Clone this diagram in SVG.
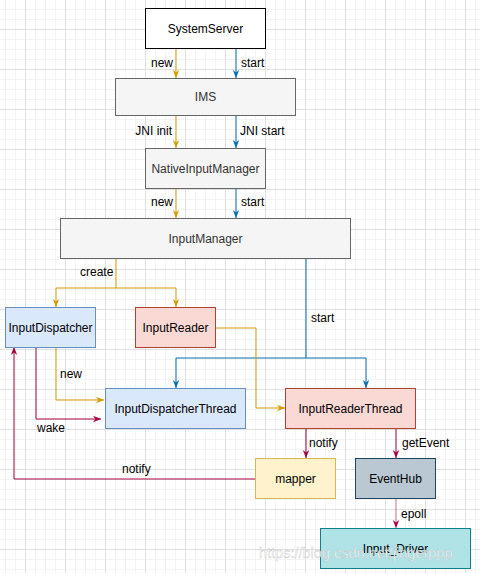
<svg xmlns="http://www.w3.org/2000/svg" width="480" height="573" viewBox="0 0 480 573">
<style>
text{font-family:"Liberation Sans",Arial,sans-serif;font-size:12px;fill:#000}
.c{text-anchor:middle}
.e{text-anchor:end}
.n rect{stroke-width:1}
.y{stroke:#d79b00;fill:none}
.b{stroke:#006eaf;fill:none}
.r{stroke:#a50040;fill:none}
.wm{font-size:14.5px;fill:#fff;fill-opacity:.85;stroke:#9a9a9a;stroke-width:.4;stroke-opacity:.6}
</style>
<defs>
<pattern id="g" patternUnits="userSpaceOnUse" x="25" y="29" width="40" height="40">
<rect x="0" y="0" width="40" height="40" fill="#fff"/>
<path d="M10.5,0V40M20.5,0V40M30.5,0V40M0,10.5H40M0,20.5H40M0,30.5H40" stroke="#f4f4f4" stroke-width="1"/>
<path d="M0.5,0V40M0,0.5H40" stroke="#e0e0e0" stroke-width="1"/>
</pattern>
<marker id="ay" viewBox="0 0 10 10" refX="10" refY="5" markerWidth="8" markerHeight="8" markerUnits="userSpaceOnUse" orient="auto"><path d="M0,1L10,5L0,9L3,5z" fill="#d79b00"/></marker>
<marker id="ab" viewBox="0 0 10 10" refX="10" refY="5" markerWidth="8" markerHeight="8" markerUnits="userSpaceOnUse" orient="auto"><path d="M0,1L10,5L0,9L3,5z" fill="#006eaf"/></marker>
<marker id="ar" viewBox="0 0 10 10" refX="10" refY="5" markerWidth="8" markerHeight="8" markerUnits="userSpaceOnUse" orient="auto"><path d="M0,1L10,5L0,9L3,5z" fill="#a50040"/></marker>
</defs>
<rect width="480" height="573" fill="url(#g)"/>
<g id="connectors">
<path class="y" d="M176,48V78" marker-end="url(#ay)"/>
<path class="b" d="M236,48V78" marker-end="url(#ab)"/>
<path class="y" d="M176,115V148" marker-end="url(#ay)"/>
<path class="b" d="M236,115V148" marker-end="url(#ab)"/>
<path class="y" d="M176,188V218" marker-end="url(#ay)"/>
<path class="b" d="M236,188V218" marker-end="url(#ab)"/>
<path class="y" d="M116,258V288H56V307" marker-end="url(#ay)"/>
<path class="y" d="M116,288H176V307" marker-end="url(#ay)"/>
<path class="b" d="M306,258V358H176V388" marker-end="url(#ab)"/>
<path class="b" d="M306,358H366V388" marker-end="url(#ab)"/>
<path class="y" d="M215,328H256V408H285" marker-end="url(#ay)"/>
<path class="y" d="M56,347V400H104" marker-end="url(#ay)"/>
<path class="r" d="M36,347V419H101" marker-end="url(#ar)"/>
<path class="r" d="M255,479H14V347" marker-end="url(#ar)"/>
<path class="r" d="M306,428V458" marker-end="url(#ar)"/>
<path class="r" d="M396,428V458" marker-end="url(#ar)"/>
<path class="r" d="M396,498V528" stroke-opacity=".55" marker-end="url(#ar)"/>
<text x="173" y="67" class="e">new</text>
<text x="241" y="67">start</text>
<text x="172" y="135" class="e">JNI init</text>
<text x="240" y="135">JNI start</text>
<text x="173" y="206" class="e">new</text>
<text x="241" y="206">start</text>
<text x="80" y="276">create</text>
<text x="311" y="322">start</text>
<text x="60" y="378">new</text>
<text x="37" y="432">wake</text>
<text x="122" y="473">notify</text>
<text x="309" y="447">notify</text>
<text x="402" y="447">getEvent</text>
<text x="401" y="518">epoll</text>
</g>
<g id="SystemServer" class="n"><rect x="145.5" y="8.5" width="120" height="40" fill="#fff" stroke="#000"/><text x="205.5" y="32.5" class="c">SystemServer</text></g>
<g id="IMS" class="n"><rect x="115.5" y="78.5" width="180" height="37" fill="#f5f5f5" stroke="#666"/><text x="205.5" y="101" class="c" style="fill:#333">IMS</text></g>
<g id="NativeInputManager" class="n"><rect x="145.5" y="148.5" width="120" height="40" fill="#f5f5f5" stroke="#666"/><text x="205.5" y="172.5" class="c" style="fill:#333">NativeInputManager</text></g>
<g id="InputManager" class="n"><rect x="60.5" y="218.5" width="290" height="40" fill="#f5f5f5" stroke="#666"/><text x="205.5" y="242.5" class="c" style="fill:#333">InputManager</text></g>
<g id="InputDispatcher" class="n"><rect x="5.5" y="307.5" width="90" height="40" fill="#dae8fc" stroke="#6c8ebf"/><text x="50.5" y="331.5" class="c">InputDispatcher</text></g>
<g id="InputReader" class="n"><rect x="135.5" y="307.5" width="80" height="40" fill="#fad9d5" stroke="#ae4132"/><text x="175.5" y="331.5" class="c">InputReader</text></g>
<g id="InputDispatcherThread" class="n"><rect x="105.5" y="388.5" width="140" height="40" fill="#dae8fc" stroke="#6c8ebf"/><text x="175.5" y="412.5" class="c">InputDispatcherThread</text></g>
<g id="InputReaderThread" class="n"><rect x="285.5" y="388.5" width="130" height="40" fill="#fad9d5" stroke="#ae4132"/><text x="350.5" y="412.5" class="c">InputReaderThread</text></g>
<g id="mapper" class="n"><rect x="255.5" y="458.5" width="80" height="40" fill="#fff2cc" stroke="#d6b656"/><text x="295.5" y="482.5" class="c">mapper</text></g>
<g id="EventHub" class="n"><rect x="355.5" y="458.5" width="80" height="40" fill="#bac8d3" stroke="#23445d"/><text x="395.5" y="482.5" class="c">EventHub</text></g>
<g id="Input_Driver" class="n"><rect x="320.5" y="528.5" width="150" height="40" fill="#b0e3e6" stroke="#0e8088"/><text x="395.5" y="552.5" class="c">Input_Driver</text></g>
<text x="259" y="558" class="wm">https://blog.csdn.net/jingerppp</text>
</svg>
